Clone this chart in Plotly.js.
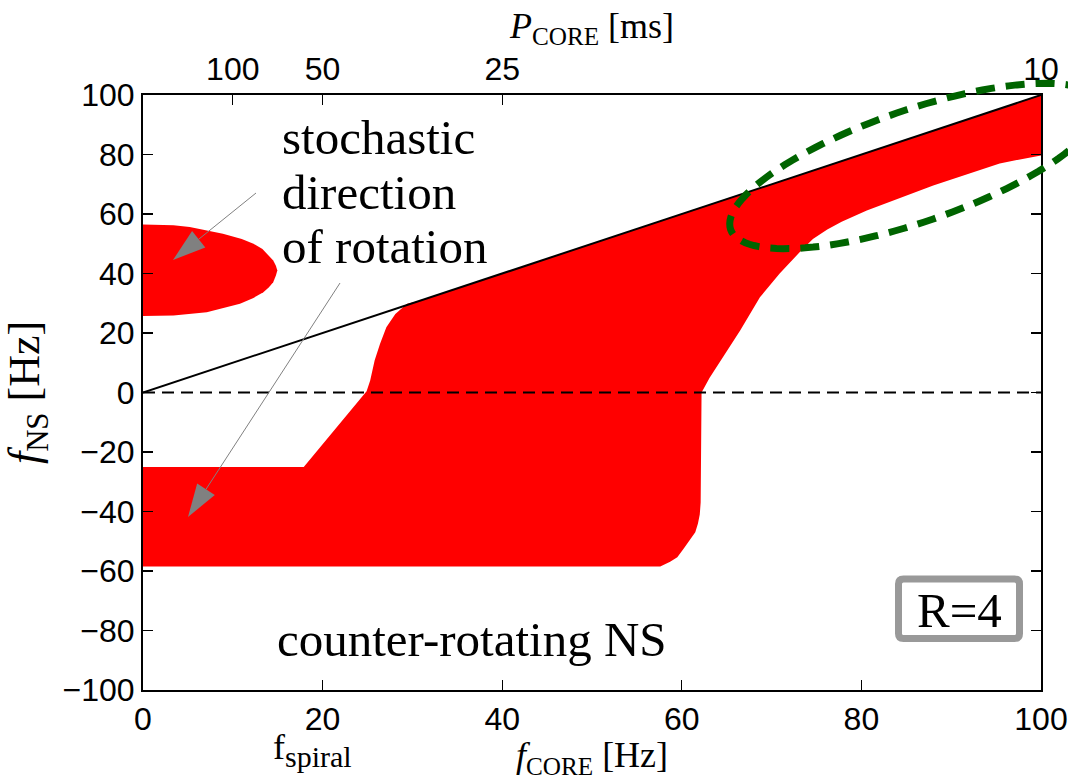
<!DOCTYPE html>
<html>
<head>
<meta charset="utf-8">
<script src="https://cdn.plot.ly/plotly-3.0.1.min.js"></script>
<style>html,body{margin:0;padding:0;background:#fff;}#chart{width:1068px;height:780px;}</style>
</head>
<body>
<div id="chart"></div>
<script>
// ---- data ----
// upper-left region (stochastic direction of rotation)
const blobX = [0, 3.4, 5.2, 8.9, 11.0, 12.3, 13.3, 13.8, 14.5, 14.8, 14.96, 14.8, 14.5, 14.0, 13.4, 12.3, 10.8, 7.1, 3.4, 0];
const blobY = [56.5, 56.2, 55.6, 53.4, 51.6, 50.0, 48.2, 46.6, 44.4, 42.6, 41.0, 39.3, 37.1, 35.3, 33.7, 31.8, 29.8, 27.0, 25.9, 25.7];
// main region boundary
const mainX = [0, 17.9, 24.9, 25.3, 25.8, 26.4, 27.1, 28.1, 29.4, 30.8, 100, 100, 95.4, 91.7, 88.0, 84.3, 80.6, 77.8, 76.2, 74.6, 73.2, 70.9, 68.7, 66.5, 64.6, 63.1, 62.2, 62.1, 62.0, 61.8, 61.5, 60.9, 60.2, 59.5, 58.7, 57.6, 0];
const mainY = [-25.0, -25.0, 0.4, 4.0, 10.8, 16.4, 21.9, 26.4, 29.8, 30.8, 100, 79.7, 77.0, 73.3, 69.6, 65.4, 61.2, 57.4, 54.8, 51.6, 47.4, 40.0, 32.0, 20.8, 11.8, 5.0, 0.0, -37.0, -41.0, -44.0, -47.0, -49.7, -52.5, -55.4, -56.9, -58.5, -58.5];
// co-rotation line f_NS = f_CORE and zero line
const diagX = [0, 100];
const diagY = [0, 100];
const zeroX = [0, 100];
const zeroY = [0, 0];
// axis ticks
const xTicks = [0, 20, 40, 60, 80, 100];
const yTicks = [-100, -80, -60, -40, -20, 0, 20, 40, 60, 80, 100];
const pTicks = [100, 50, 25, 10];   // P_CORE [ms]
const pTickVals = pTicks.map(p => 1000 / p);
const pTickText = pTicks.map(String);

// ---- layout helpers (pixel -> paper) ----
const W = 1068, H = 780, ML = 143, MR = 27, MT = 95, MB = 90;
const PW = W - ML - MR, PH = H - MT - MB;
const px = x => (x - ML) / PW;
const py = y => (H - MB - y) / PH;
const pt = (x, y) => px(x).toFixed(5) + ',' + py(y).toFixed(5);

// green dashed ellipse
function ellipsePath(cx, cy, a, b, degUp) {
  const f = degUp * Math.PI / 180, c = Math.cos(f), s = Math.sin(f);
  let d = '';
  for (let i = 0; i <= 120; i++) {
    const t = 2 * Math.PI * i / 120;
    const x = cx + a * Math.cos(t) * c + b * Math.sin(t) * s;
    const y = cy - a * Math.cos(t) * s + b * Math.sin(t) * c;
    d += (i === 0 ? 'M' : 'L') + pt(x, y);
  }
  return d + 'Z';
}
// arrow shaft + head
function arrowShapes(sx, sy, tx, ty) {
  const L = Math.hypot(tx - sx, ty - sy), dx = (tx - sx) / L, dy = (ty - sy) / L;
  const hl = 33, hw = 10.5;
  const bx = tx - hl * dx, by = ty - hl * dy;
  const nx = -dy, ny = dx;
  return [
    {type: 'path', xref: 'paper', yref: 'paper', path: 'M' + pt(sx, sy) + 'L' + pt(bx, by),
     line: {color: '#808080', width: 1}},
    {type: 'path', xref: 'paper', yref: 'paper',
     path: 'M' + pt(tx, ty) + 'L' + pt(bx + hw * nx, by + hw * ny) + 'L' + pt(bx - hw * nx, by - hw * ny) + 'Z',
     fillcolor: '#808080', line: {width: 0}}
  ];
}
function roundRect(x0, y0, x1, y1, r) {
  return 'M' + pt(x0 + r, y0) + 'L' + pt(x1 - r, y0) + 'Q' + pt(x1, y0) + ' ' + pt(x1, y0 + r) +
    'L' + pt(x1, y1 - r) + 'Q' + pt(x1, y1) + ' ' + pt(x1 - r, y1) +
    'L' + pt(x0 + r, y1) + 'Q' + pt(x0, y1) + ' ' + pt(x0, y1 - r) +
    'L' + pt(x0, y0 + r) + 'Q' + pt(x0, y0) + ' ' + pt(x0 + r, y0) + 'Z';
}

const RED = '#ff0000';
const traces = [
  {x: blobX, y: blobY, type: 'scatter', mode: 'lines', fill: 'toself', fillcolor: RED,
   line: {width: 0, color: RED}, hoverinfo: 'skip', showlegend: false},
  {x: mainX, y: mainY, type: 'scatter', mode: 'lines', fill: 'toself', fillcolor: RED,
   line: {width: 0, color: RED}, hoverinfo: 'skip', showlegend: false},
  {x: zeroX, y: zeroY, type: 'scatter', mode: 'lines',
   line: {color: 'black', width: 2, dash: '12px,7px'}, hoverinfo: 'skip', showlegend: false},
  {x: diagX, y: diagY, type: 'scatter', mode: 'lines',
   line: {color: 'black', width: 2}, hoverinfo: 'skip', showlegend: false},
  {x: [0, 100], y: [0, 0], xaxis: 'x2', type: 'scatter', mode: 'lines',
   line: {width: 0}, opacity: 0, hoverinfo: 'skip', showlegend: false}
];

const tickFont = {family: '"Liberation Sans", Arial, sans-serif', size: 32, color: 'black'};
const serif = '"Liberation Serif", "Times New Roman", serif';

const shapes = [
  {type: 'path', xref: 'paper', yref: 'paper', path: ellipsePath(915, 166, 195, 56, 19),
   line: {color: '#006400', width: 7, dash: '19px,11px'}, fillcolor: 'rgba(0,0,0,0)'},
  ...arrowShapes(256, 193, 173, 260),
  ...arrowShapes(340, 283, 188, 517),
  {type: 'path', xref: 'paper', yref: 'paper', path: roundRect(898.5, 579, 1019.5, 638.5, 5),
   line: {color: '#999999', width: 7}, fillcolor: 'white'}
];

const ann = (text, x, y, size, xanchor) => ({
  text: text, xref: 'paper', yref: 'paper', x: px(x), y: py(y), showarrow: false,
  xanchor: xanchor || 'left', yanchor: 'middle', font: {family: serif, size: size, color: 'black'}
});

const layout = {
  width: W, height: H,
  margin: {l: ML, r: MR, t: MT, b: MB, pad: 0},
  paper_bgcolor: 'white', plot_bgcolor: 'white',
  showlegend: false,
  xaxis: {
    range: [0, 100], tickvals: xTicks, ticks: 'inside', ticklen: 10, tickwidth: 1.2, tickcolor: 'black',
    showline: true, linewidth: 2, linecolor: 'black', mirror: false, showgrid: false, zeroline: false,
    tickfont: tickFont,
    title: {text: '<i>f</i><sub>CORE</sub> [Hz]', font: {family: serif, size: 36, color: 'black'}, standoff: 10}
  },
  xaxis2: {
    overlaying: 'x', side: 'top', range: [0, 100], tickvals: pTickVals, ticktext: pTickText,
    ticks: 'inside', ticklen: 10, tickwidth: 1.2, tickcolor: 'black',
    showline: true, linewidth: 2, linecolor: 'black', showgrid: false, zeroline: false,
    tickfont: tickFont,
    title: {text: '<i>P</i><sub>CORE</sub> [ms]', font: {family: serif, size: 36, color: 'black'}, standoff: 2}
  },
  yaxis: {
    range: [-100, 100], tickvals: yTicks, ticks: 'inside', ticklen: 10, tickwidth: 1.2, tickcolor: 'black',
    showline: true, linewidth: 2, linecolor: 'black', mirror: 'ticks', showgrid: false, zeroline: false,
    tickfont: tickFont,
    title: {text: '<i>f</i><sub>NS</sub> [Hz]', font: {family: serif, size: 44, color: 'black'}, standoff: 20}
  },
  shapes: shapes,
  annotations: [
    ann('stochastic', 280, 137, 49),
    ann('direction', 280, 192, 49),
    ann('of rotation', 280, 246, 49),
    ann('counter-rotating NS', 275, 639, 49),
    ann('R=4', 959, 610, 49, 'center'),
    ann('f<sub><span style="font-size:30px">spiral</span></sub>', 271, 750, 36)
  ]
};

Plotly.newPlot('chart', traces, layout, {staticPlot: true, displayModeBar: false});
</script>
</body>
</html>
